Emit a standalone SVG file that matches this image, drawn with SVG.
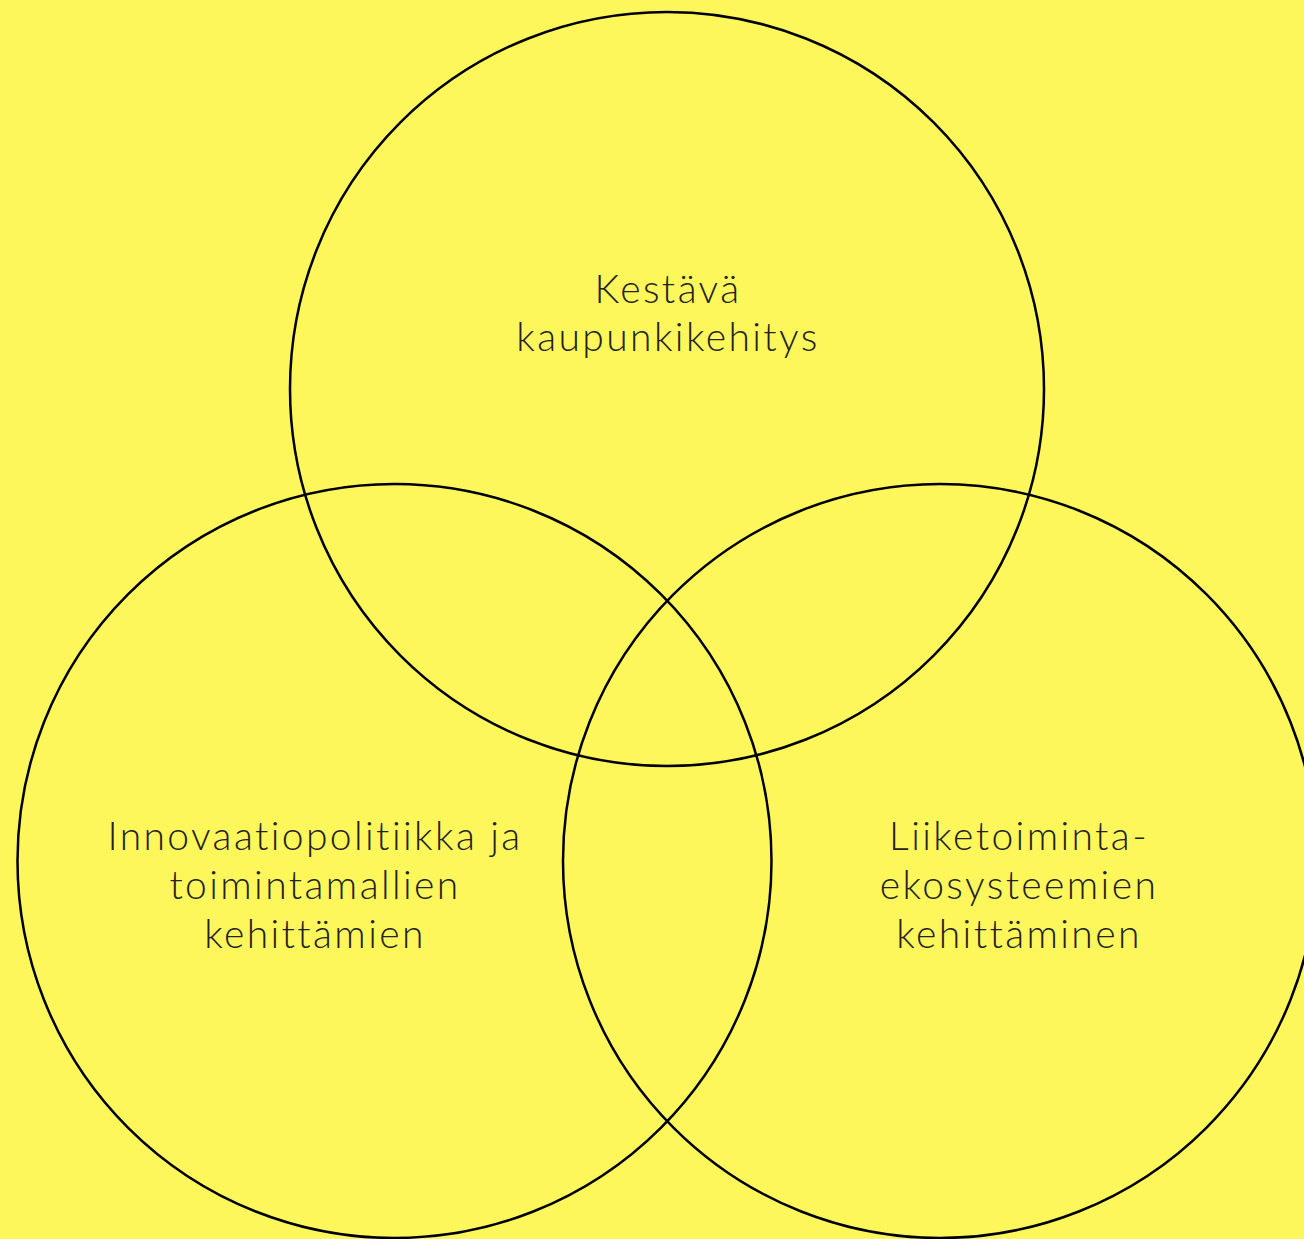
<svg xmlns="http://www.w3.org/2000/svg" width="1304" height="1239" viewBox="0 0 1304 1239">
<style>
.c{fill:none;stroke:#000;stroke-width:2.5}
.t{font-family:Lato,"Noto Sans",sans-serif;font-weight:300;font-size:39px;letter-spacing:2.4px;fill:#222;text-anchor:middle}
</style>
<rect width="1304" height="1239" fill="#FDF75B"/>
<g id="top"><circle class="c" cx="667" cy="389" r="377"/>
<text class="t" x="668" y="303">Kestävä</text><text class="t" x="668" y="351">kaupunkikehitys</text></g>
<g id="left"><circle class="c" cx="394.5" cy="861" r="377"/>
<text class="t" x="315" y="850">Innovaatiopolitiikka ja</text><text class="t" x="315" y="899">toimintamallien</text><text class="t" x="315" y="948">kehittämien</text></g>
<g id="right"><circle class="c" cx="940" cy="861" r="377"/>
<text class="t" x="1019" y="850">Liiketoiminta-</text><text class="t" x="1019" y="899">ekosysteemien</text><text class="t" x="1019" y="948">kehittäminen</text></g>
<g id="connectors"/>
</svg>
